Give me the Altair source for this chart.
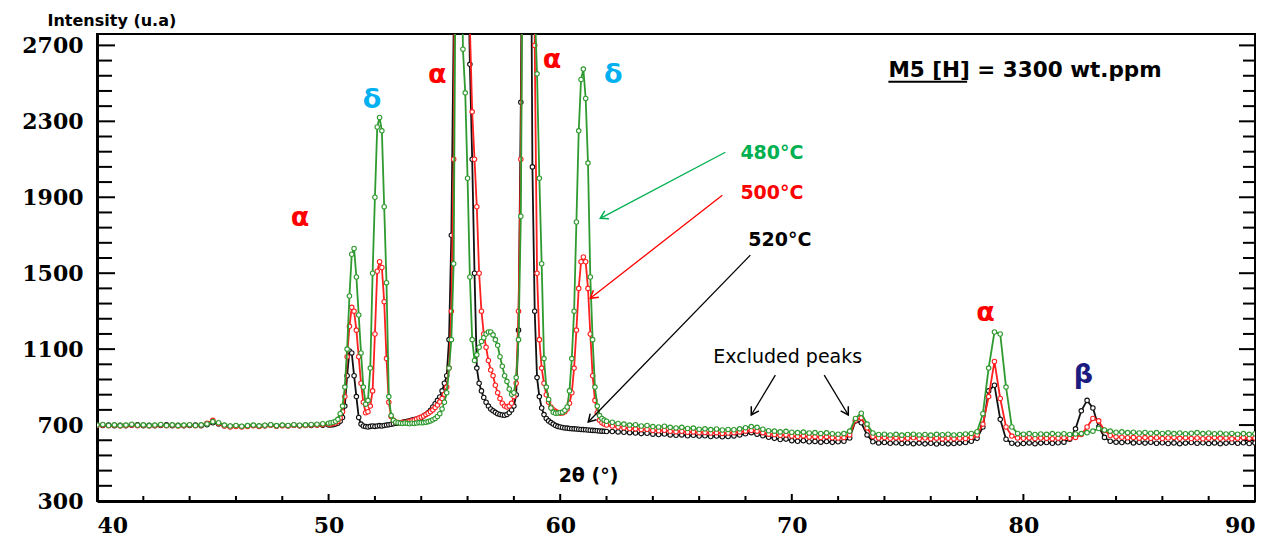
import math
import altair as alt
import pandas as pd

# ---------------- layout constants ----------------
X_MIN, X_MAX = 40, 90
Y_MIN, Y_MAX = 300, 2760
W, H = 1158, 467

# ---------------- data ----------------
# sample positions (2theta, degrees)
x_a = [round(40 + 0.25 * i, 2) for i in range(41)]      # 40.00 .. 50.00
x_b = [round(50.1 + 0.1 * i, 2) for i in range(120)]     # 50.1 .. 62.0
x_c = [round(62.25 + 0.25 * i, 2) for i in range(112)]   # 62.25 .. 90.0

# 480 C (green)
green_a = [700,
           703, 698, 701, 697,
           700, 704, 699, 701,
           697, 700, 703, 698,
           701, 697, 700, 702,
           698, 701, 706, 718,
           712, 700, 695, 698,
           694, 697, 700, 696,
           699, 702, 697, 700,
           698, 702, 699, 701,
           703, 704, 707, 710]
green_b = [712, 715, 720, 730, 760, 800, 900, 1100, 1380,
           1600, 1630, 1480, 1280, 1080, 900, 810, 830, 1000, 1500,
           1900, 2270, 2320, 2250, 1850, 1450, 850, 750, 725, 715,
           712, 710, 708, 711, 709, 707, 710, 708, 711, 713,
           712, 713, 715, 718, 722, 728, 735, 745, 760, 785,
           820, 870, 1000, 1150, 1550, 3500, 5500, 3800, 2680, 2450,
           2000, 1480, 1150, 1040, 1070, 1110, 1140, 1160, 1180, 1190,
           1190, 1175, 1150, 1120, 1060, 1010, 960, 930, 890, 862,
           870, 950, 1150, 1800, 3600, 5000, 5200, 4600, 3600, 2900,
           2550, 2000, 1550, 1050, 900, 835, 790, 768, 762, 763,
           766, 768, 778, 795, 880, 1050, 1300, 1770, 2250, 2520,
           2575, 2420, 2080, 1480, 1150, 900, 800, 750, 735, 726,
           720]
green_c = [715, 708, 705, 700,
           702, 695, 698, 692,
           690, 694, 688, 685,
           688, 682, 684, 678,
           680, 676, 679, 674,
           677, 675, 680, 686,
           692, 688, 678, 670,
           668, 664, 667, 662,
           660, 663, 658, 660,
           656, 659, 654, 652,
           655, 668, 735, 762,
           705, 658, 650, 652,
           648, 651, 647, 650,
           652, 648, 650, 647,
           651, 649, 652, 648,
           650, 653, 656, 665,
           760, 1000, 1190, 1180,
           900, 690, 656, 652,
           655, 650, 653, 651,
           655, 652, 654, 650,
           653, 655, 660, 668,
           682, 674, 668, 662,
           664, 660, 662, 658,
           661, 657, 660, 656,
           659, 655, 658, 654,
           657, 660, 655, 658,
           654, 657, 653, 656,
           652, 655, 651, 654]

# 500 C (red)
red_a = [698,
         700, 696, 699, 695,
         698, 701, 697, 699,
         695, 698, 700, 696,
         699, 695, 698, 700,
         696, 699, 710, 725,
         708, 695, 690, 693,
         690, 693, 697, 692,
         696, 699, 694, 697,
         695, 699, 696, 698,
         700, 701, 703, 705]
red_b = [705, 708, 712, 720, 738, 770, 850, 1060, 1220,
         1320, 1300, 1200, 1060, 920, 820, 765, 770, 800, 880,
         1180, 1510, 1560, 1530, 1350, 1050, 820, 745, 725, 716,
         713, 711, 714, 712, 716, 720, 723, 727, 732, 737,
         742, 748, 755, 762, 770, 780, 792, 806, 822, 840,
         862, 900, 1000, 1300, 2100, 4200, 5800, 5800, 5000, 4000,
         3400, 2800, 2350, 2100, 1850, 1500, 1300, 1180, 1110, 1040,
         990, 960, 910, 870, 840, 815, 800, 795, 800, 815,
         850, 920, 1300, 2100, 3800, 5000, 5500, 5200, 4200, 2700,
         1500, 1150, 1000, 920, 860, 820, 795, 780, 772, 766,
         763, 764, 770, 785, 815, 870, 1000, 1200, 1420, 1560,
         1585, 1560, 1420, 1180, 960, 830, 765, 725, 712, 705,
         700]
red_c = [695, 690, 686, 682,
         680, 676, 678, 672,
         670, 673, 667, 665,
         667, 662, 664, 660,
         661, 658, 660, 656,
         658, 660, 664, 668,
         672, 668, 660, 652,
         650, 646, 648, 642,
         640, 643, 637, 639,
         635, 638, 633, 632,
         634, 648, 725, 738,
         685, 640, 632, 634,
         630, 633, 628, 631,
         633, 629, 632, 628,
         631, 627, 630, 628,
         631, 629, 636, 648,
         705, 850, 1035, 840,
         690, 642, 632, 630,
         633, 629, 632, 630,
         628, 631, 633, 630,
         635, 650, 690, 735,
         722, 672, 645, 638,
         636, 633, 635, 631,
         634, 630, 633, 629,
         632, 635, 630, 633,
         629, 632, 628, 631,
         634, 630, 632, 628,
         631, 634, 630, 632]

# 520 C (black)
black_a = [700,
           698, 700, 696, 699,
           697, 699, 701, 696,
           699, 696, 698, 701,
           697, 699, 696, 698,
           700, 697, 702, 712,
           706, 697, 693, 695,
           692, 695, 698, 694,
           697, 700, 695, 698,
           696, 699, 697, 699,
           698, 700, 699, 700]
black_b = [700, 702, 705, 710, 720, 740, 800, 960, 1090,
           1080, 960, 850, 740, 705, 695, 692, 690, 693, 695,
           693, 695, 697, 695, 698, 700, 702, 704, 707, 710,
           710, 712, 714, 717, 720, 723, 726, 729, 732, 736,
           740, 748, 756, 765, 778, 795, 812, 830, 848, 880,
           920, 960, 1150, 1700, 2800, 4500, 6000, 6000, 5200, 4200,
           3300, 2600, 2100, 1500, 1000, 920, 880, 845, 820, 800,
           785, 775, 767, 760, 756, 753, 752, 756, 765, 780,
           800, 860, 1200, 2400, 4200, 5500, 5500, 4200, 2060, 1300,
           950, 850, 790, 755, 735, 722, 713, 705, 698, 693,
           690, 687, 685, 684, 682, 681, 680, 679, 678, 677,
           676, 675, 674, 673, 672, 671, 670, 669, 668, 667,
           666]
black_c = [666, 664, 662, 660,
           658, 655, 657, 652,
           650, 653, 648, 646,
           648, 644, 646, 642,
           644, 640, 642, 638,
           640, 643, 648, 654,
           660, 652, 644, 636,
           630, 624, 626, 618,
           615, 618, 612, 614,
           610, 613, 609, 612,
           615, 632, 722, 712,
           648, 612, 606, 608,
           604, 607, 603, 606,
           602, 605, 601, 604,
           600, 604, 601, 603,
           605, 608, 615, 630,
           690, 880, 910, 730,
           625, 604, 600, 603,
           606, 602, 605, 608,
           604, 607, 610, 625,
           680, 775, 830, 790,
           690, 635, 615, 610,
           608, 612, 606, 609,
           605, 609, 604, 607,
           603, 606, 602, 605,
           608, 604, 607, 603,
           606, 602, 605, 608,
           604, 607, 603, 606]

two_theta = x_a + x_b + x_c
green = green_a + green_b + green_c
red = red_a + red_b + red_c
black = black_a + black_b + black_c

# tick labels
x_labels = [40, 50, 60, 70, 80, 90]
y_labels = [300, 700, 1100, 1500, 1900, 2300, 2700]
x_minor = [v for v in range(42, 90, 2) if v % 10 != 0]
y_minor = [v for v in range(300, Y_MAX, 80) if v not in y_labels]

# annotations (data coordinates)
phase_x = [48.77, 51.88, 54.69, 59.65, 62.29, 78.36, 82.59]
phase_y = [1789, 2411, 2542, 2621, 2542, 1289, 963]
phase_t = ["α", "δ", "α", "α", "δ", "α", "β"]
phase_c = ["#ff0000", "#00b0f0", "#ff0000", "#ff0000", "#00b0f0", "#ff0000", "#1c1c80"]

temp_x = [67.78, 67.78, 68.12]
temp_y = [2132, 1921, 1674]
temp_t = ["480°C", "500°C", "520°C"]
temp_c = ["#00b050", "#ff0000", "#000000"]

arrow_x = [67.13, 67.00, 68.21, 69.29, 71.40]
arrow_y = [2137, 1911, 1595, 963, 963]
arrow_x2 = [61.73, 61.30, 61.21, 68.25, 72.44]
arrow_y2 = [1789, 1368, 716, 753, 753]
arrow_c = ["#00b050", "#ff0000", "#000000", "#000000", "#000000"]

# ---------------- frames ----------------
rows = []
for name, vals in (("520", black), ("500", red), ("480", green)):
    for xv, yv in zip(two_theta, vals):
        rows.append({"two_theta": xv, "intensity": yv, "series": name})
curves = pd.DataFrame(rows)

px_x = W / (X_MAX - X_MIN)
px_y = H / (Y_MAX - Y_MIN)
angles = []
for a, b, c, d in zip(arrow_x, arrow_y, arrow_x2, arrow_y2):
    dx = (c - a) * px_x
    dy = -(d - b) * px_y
    angles.append(math.degrees(math.atan2(dy, dx)) % 360)
arrows = pd.DataFrame({"two_theta": arrow_x, "intensity": arrow_y,
                       "two_theta2": arrow_x2, "intensity2": arrow_y2,
                       "color": arrow_c})
heads = pd.DataFrame({"two_theta": arrow_x2, "intensity": arrow_y2,
                      "color": arrow_c, "angle": angles})
phases = pd.DataFrame({"two_theta": phase_x, "intensity": phase_y, "label": phase_t, "color": phase_c})
temps = pd.DataFrame({"two_theta": temp_x, "intensity": temp_y, "label": temp_t, "color": temp_c})

# ---------------- encodings ----------------
x_scale = alt.Scale(domain=[X_MIN, X_MAX], nice=False, zero=False)
y_scale = alt.Scale(domain=[Y_MIN, Y_MAX], nice=False, zero=False)

X = alt.X("two_theta:Q", scale=x_scale,
          axis=alt.Axis(values=x_labels, format="d", ticks=False, grid=False,
                        domainWidth=3, domainColor="black",
                        labelFont="DejaVu Serif", labelFontWeight="bold", labelFontSize=22,
                        labelColor="black", labelPadding=14,
                        title="2θ (°)", titleFont="DejaVu Sans", titleFontWeight="bold",
                        titleFontSize=19, titleColor="black", titleX=491, titleY=-26,
                        titleBaseline="middle", titleAlign="center"))
Y = alt.Y("intensity:Q", scale=y_scale,
          axis=alt.Axis(values=y_labels, format="d", ticks=False, grid=False,
                        domainWidth=3, domainColor="black",
                        labelFont="DejaVu Serif", labelFontWeight="bold", labelFontSize=22,
                        labelColor="black", labelPadding=14,
                        title="Intensity (u.a)", titleFont="DejaVu Sans", titleFontWeight="bold",
                        titleFontSize=16, titleColor="black", titleAngle=0,
                        titleAlign="left", titleBaseline="bottom", titleX=-50, titleY=-6))

layers = []

# tick marks (inward)
ymaj = pd.DataFrame({"intensity": y_labels})
ymin = pd.DataFrame({"intensity": y_minor})
xmaj = pd.DataFrame({"two_theta": x_labels})
xmin = pd.DataFrame({"two_theta": x_minor})
tick_style = dict(color="black", strokeWidth=2)
layers.append(alt.Chart(ymaj).mark_rule(**tick_style).encode(y=Y, x=alt.value(0), x2=alt.value(18)))
layers.append(alt.Chart(ymin).mark_rule(**tick_style).encode(y=Y, x=alt.value(0), x2=alt.value(15)))
layers.append(alt.Chart(ymaj).mark_rule(**tick_style).encode(y=Y, x=alt.value(W - 16), x2=alt.value(W)))
layers.append(alt.Chart(ymin).mark_rule(**tick_style).encode(y=Y, x=alt.value(W - 12), x2=alt.value(W)))
layers.append(alt.Chart(xmaj).mark_rule(**tick_style).encode(x=X, y=alt.value(H), y2=alt.value(H - 7)))
layers.append(alt.Chart(xmin).mark_rule(**tick_style).encode(x=X, y=alt.value(H), y2=alt.value(H - 5)))

# curves
curve_colors = {"520": "#111111", "500": "#ff2020", "480": "#2f9a2f"}
for name in ("520", "500", "480"):
    col = curve_colors[name]
    sub = alt.Chart(curves).transform_filter(alt.datum.series == name)
    layers.append(sub.mark_line(color=col, strokeWidth=1.8, clip=True).encode(x=X, y=Y))
    layers.append(sub.mark_point(color=col, fill="white", filled=True, stroke=col, strokeWidth=1.1,
                                 size=20, opacity=1, clip=True).encode(x=X, y=Y))

# arrows
layers.append(alt.Chart(arrows).mark_rule(strokeWidth=1.3).encode(
    x=X, y=Y, x2="two_theta2:Q", y2="intensity2:Q", color=alt.Color("color:N", scale=None)))
layers.append(alt.Chart(heads).mark_point(shape="M-1,-0.6L0,0L-1,0.6", filled=False, size=220,
                                          strokeWidth=1.5, opacity=1).encode(
    x=X, y=Y,
    angle=alt.Angle("angle:Q", scale=None),
    color=alt.Color("color:N", scale=None)))

# phase labels
layers.append(alt.Chart(phases).mark_text(font="DejaVu Sans", fontWeight="bold", fontSize=27,
                                          align="center", baseline="middle").encode(
    x=X, y=Y, text="label:N", color=alt.Color("color:N", scale=None)))

# temperature labels
layers.append(alt.Chart(temps).mark_text(font="DejaVu Sans", fontWeight="bold", fontSize=19,
                                         align="left", baseline="middle").encode(
    x=X, y=Y, text="label:N", color=alt.Color("color:N", scale=None)))

# other texts
notes = pd.DataFrame({"two_theta": [66.61, 74.17], "intensity": [1058, 2563],
                      "label": ["Excluded  peaks", "M5 [H] = 3300 wt.ppm"]})
layers.append(alt.Chart(notes.iloc[[0]]).mark_text(font="DejaVu Sans", fontSize=19, color="black",
                                                   align="left", baseline="middle").encode(
    x=X, y=Y, text="label:N"))
layers.append(alt.Chart(notes.iloc[[1]]).mark_text(font="DejaVu Sans", fontWeight="bold", fontSize=21.5,
                                                   color="black", align="left", baseline="middle").encode(
    x=X, y=Y, text="label:N"))
underline = pd.DataFrame({"two_theta": [74.17], "two_theta2": [77.57], "intensity": [2508]})
layers.append(alt.Chart(underline).mark_rule(color="black", strokeWidth=2).encode(
    x=X, x2="two_theta2:Q", y=Y))

chart = alt.layer(*layers).properties(
    width=W, height=H,
    autosize=alt.AutoSizeParams(type="none"),
    padding={"left": 89, "top": 26, "right": 6, "bottom": 36},
    background="white",
).configure_view(stroke="black", strokeWidth=2)

chart.save("out.html", embed_options={"renderer": "svg", "actions": False})
